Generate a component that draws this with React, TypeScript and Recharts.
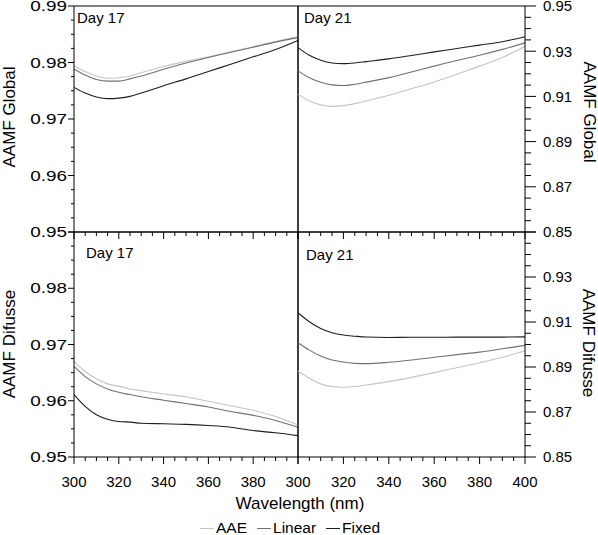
import React from "react";
import { LineChart, Line, XAxis, YAxis, ReferenceLine } from "recharts";

// wavelength samples (nm)
const wavelengths = [300, 305, 310, 315, 320, 325, 330, 340, 350, 360, 370, 380, 390, 400];

const glob17Aae = [0.9794, 0.9784, 0.9776, 0.9772, 0.9773, 0.9776, 0.9782, 0.9793, 0.9802, 0.981, 0.9819, 0.9828, 0.9837, 0.9846];
const glob17Lin = [0.9788, 0.9778, 0.977, 0.9767, 0.9767, 0.9771, 0.9776, 0.9788, 0.9799, 0.9809, 0.9818, 0.9827, 0.9836, 0.9844];
const glob17Fix = [0.9756, 0.9746, 0.9739, 0.9736, 0.9737, 0.974, 0.9746, 0.9759, 0.9771, 0.9784, 0.9797, 0.981, 0.9823, 0.9839];

const glob21Aae = [0.9109, 0.908, 0.9063, 0.9056, 0.9059, 0.9068, 0.908, 0.9105, 0.9134, 0.9164, 0.9198, 0.9234, 0.9272, 0.9322];
const glob21Lin = [0.9213, 0.9183, 0.9163, 0.9151, 0.9148, 0.9154, 0.9163, 0.9183, 0.9208, 0.9234, 0.9259, 0.9282, 0.9308, 0.9337];
const glob21Fix = [0.9316, 0.9282, 0.926, 0.9248, 0.9245, 0.9248, 0.9254, 0.9266, 0.9281, 0.9297, 0.9312, 0.9327, 0.9342, 0.9364];

const dif17Aae = [0.967, 0.9652, 0.9639, 0.963, 0.9626, 0.9621, 0.9618, 0.9612, 0.9607, 0.9599, 0.9591, 0.9583, 0.9572, 0.9557];
const dif17Lin = [0.9661, 0.9643, 0.963, 0.9621, 0.9615, 0.9611, 0.9607, 0.9601, 0.9595, 0.9589, 0.9581, 0.9574, 0.9565, 0.9553];
const dif17Fix = [0.9611, 0.959, 0.9575, 0.9567, 0.9563, 0.9562, 0.956, 0.9559, 0.9558, 0.9556, 0.9553, 0.9547, 0.9543, 0.9538];

const dif21Aae = [0.8882, 0.885, 0.8825, 0.8813, 0.881, 0.8813, 0.882, 0.8835, 0.8854, 0.8875, 0.8897, 0.8919, 0.8943, 0.8972];
const dif21Lin = [0.9008, 0.8975, 0.8949, 0.8931, 0.8922, 0.8916, 0.8915, 0.8921, 0.8931, 0.8943, 0.8955, 0.8966, 0.8981, 0.8996];
const dif21Fix = [0.9141, 0.9101, 0.9071, 0.9052, 0.9042, 0.9037, 0.9033, 0.9031, 0.9032, 0.9032, 0.9033, 0.9033, 0.9033, 0.9034];

// ticks
const xTicks = [300, 305, 310, 315, 320, 325, 330, 335, 340, 345, 350, 355, 360, 365, 370, 375, 380, 385, 390, 395, 400];
const xMajors = [300, 320, 340, 360, 380, 400];
const leftTicks = [0.95, 0.9525, 0.955, 0.9575, 0.96, 0.9625, 0.965, 0.9675, 0.97, 0.9725, 0.975, 0.9775, 0.98, 0.9825, 0.985, 0.9875, 0.99];
const leftMajors = [0.95, 0.96, 0.97, 0.98, 0.99];
const rightTicks = [0.85, 0.855, 0.86, 0.865, 0.87, 0.875, 0.88, 0.885, 0.89, 0.895, 0.9, 0.905, 0.91, 0.915, 0.92, 0.925, 0.93, 0.935, 0.94, 0.945, 0.95];
const rightMajors = [0.85, 0.87, 0.89, 0.91, 0.93, 0.95];

const COLORS = { aae: "#c4c4c4", lin: "#717171", fix: "#1e1e1e" };
const FONT = "'Liberation Sans', Arial, sans-serif";

const has = (list: number[], v: number) => list.some((l) => Math.abs(l - v) < 1e-7);

function rows(aae: number[], lin: number[], fix: number[]) {
  return wavelengths.map((w, i) => ({ w, aae: aae[i], lin: lin[i], fix: fix[i] }));
}

function YTick(props: any) {
  const { x, y, payload, side, majors, labels } = props;
  const v = payload.value;
  const major = has(majors, v);
  const label = has(labels, v) ? v.toFixed(2) : null;
  if (side === "left") {
    const len = major ? 6 : 3;
    return (
      <g>
        <line x1={x - len} y1={y} x2={x} y2={y} stroke="#000" />
        {label && (
          <text
            transform={`translate(${x - 7},${y}) scale(1.35,1)`}
            textAnchor="end"
            dy="0.36em"
            fontSize={14}
            fontFamily={FONT}
            fill="#000"
          >
            {label}
          </text>
        )}
      </g>
    );
  }
  const len = major ? 11 : 6;
  return (
    <g>
      <line x1={x} y1={y} x2={x + len} y2={y} stroke="#000" />
      {label && (
        <text x={x + 18} y={y} dy="0.36em" fontSize={15} fontFamily={FONT} fill="#000">
          {label}
        </text>
      )}
    </g>
  );
}

function XTick(props: any) {
  const { x, y, payload, labels } = props;
  const v = payload.value;
  const major = has(xMajors, v);
  const len = major ? 7 : 4;
  return (
    <g>
      <line x1={x} y1={y} x2={x} y2={y + len} stroke="#000" />
      {has(labels, v) && (
        <text x={x} y={y + 30} textAnchor="middle" fontSize={15} fontFamily={FONT} fill="#000">
          {v}
        </text>
      )}
    </g>
  );
}

interface PanelProps {
  data: { w: number; aae: number; lin: number; fix: number }[];
  side: "left" | "right";
  domain: [number, number];
  yLabels: number[];
  xLabels: number[];
  left: number;
  top: number;
  width: number;
  height: number;
  margin: { top: number; right: number; bottom: number; left: number };
  xHeight: number;
  day: string;
  dayX: number;
  dayY: number;
}

function Panel(p: PanelProps) {
  const ticks = p.side === "left" ? leftTicks : rightTicks;
  const majors = p.side === "left" ? leftMajors : rightMajors;
  return (
    <div style={{ position: "absolute", left: p.left, top: p.top }}>
      <LineChart width={p.width} height={p.height} data={p.data} margin={p.margin}>
        <XAxis
          dataKey="w"
          type="number"
          domain={[300, 400]}
          ticks={xTicks}
          interval={0}
          tickSize={0}
          tickMargin={0}
          height={p.xHeight}
          stroke="#000"
          tick={<XTick labels={p.xLabels} />}
        />
        <YAxis
          orientation={p.side}
          type="number"
          domain={p.domain}
          ticks={ticks}
          interval={0}
          tickSize={0}
          tickMargin={0}
          width={p.side === "left" ? 74 : 73}
          stroke="#000"
          allowDataOverflow
          tick={<YTick side={p.side} majors={majors} labels={p.yLabels} />}
        />
        <ReferenceLine y={p.domain[1]} stroke="#000" />
        <ReferenceLine x={p.side === "left" ? 400 : 300} stroke="#000" />
        <Line dataKey="aae" type="monotone" stroke={COLORS.aae} strokeWidth={1.1} dot={false} isAnimationActive={false} />
        <Line dataKey="lin" type="monotone" stroke={COLORS.lin} strokeWidth={1.1} dot={false} isAnimationActive={false} />
        <Line dataKey="fix" type="monotone" stroke={COLORS.fix} strokeWidth={1.1} dot={false} isAnimationActive={false} />
      </LineChart>
      <div
        style={{
          position: "absolute",
          left: p.dayX,
          top: p.dayY,
          fontSize: 15,
          fontFamily: FONT,
          lineHeight: "15px",
          whiteSpace: "nowrap",
        }}
      >
        {p.day}
      </div>
    </div>
  );
}

function VLabel({ x, y, text, rot }: { x: number; y: number; text: string; rot: number }) {
  return (
    <text
      transform={`translate(${x},${y}) rotate(${rot})`}
      textAnchor="middle"
      dy="0.36em"
      fontSize={17}
      fontFamily={FONT}
      fill="#000"
    >
      {text}
    </text>
  );
}

function LegendItem({ color, label }: { color: string; label: string }) {
  return (
    <span style={{ display: "inline-flex", alignItems: "center", marginRight: 10 }}>
      <span style={{ display: "inline-block", width: 14, height: 0, borderTop: `1px solid ${color}`, marginRight: 2 }} />
      <span>{label}</span>
    </span>
  );
}

export default function App() {
  return (
    <div style={{ position: "absolute", left: 0, top: 0, width: 598, height: 535, background: "#fff", overflow: "hidden" }}>
      <style>{`.recharts-surface { overflow: visible; }`}</style>
      <Panel
        data={rows(glob17Aae, glob17Lin, glob17Fix)}
        side="left"
        domain={[0.95, 0.99]}
        yLabels={leftMajors}
        xLabels={[]}
        left={0}
        top={0}
        width={298}
        height={240}
        margin={{ top: 6, right: 0, bottom: 0, left: 0 }}
        xHeight={8}
        day="Day 17"
        dayX={77}
        dayY={10}
      />
      <Panel
        data={rows(glob21Aae, glob21Lin, glob21Fix)}
        side="right"
        domain={[0.85, 0.95]}
        yLabels={rightMajors}
        xLabels={[]}
        left={298}
        top={0}
        width={300}
        height={240}
        margin={{ top: 6, right: 0, bottom: 0, left: 0 }}
        xHeight={8}
        day="Day 21"
        dayX={6}
        dayY={10}
      />
      <Panel
        data={rows(dif17Aae, dif17Lin, dif17Fix)}
        side="left"
        domain={[0.95, 0.99]}
        yLabels={[0.95, 0.96, 0.97, 0.98]}
        xLabels={[300, 320, 340, 360, 380]}
        left={0}
        top={232}
        width={298}
        height={303}
        margin={{ top: 0, right: 0, bottom: 38, left: 0 }}
        xHeight={40}
        day="Day 17"
        dayX={86}
        dayY={13}
      />
      <Panel
        data={rows(dif21Aae, dif21Lin, dif21Fix)}
        side="right"
        domain={[0.85, 0.95]}
        yLabels={[0.85, 0.87, 0.89, 0.91, 0.93]}
        xLabels={[300, 320, 340, 360, 380, 400]}
        left={298}
        top={232}
        width={300}
        height={303}
        margin={{ top: 0, right: 0, bottom: 38, left: 0 }}
        xHeight={40}
        day="Day 21"
        dayX={8}
        dayY={15}
      />
      <svg width={598} height={535} style={{ position: "absolute", left: 0, top: 0, pointerEvents: "none" }}>
        <VLabel x={9} y={117} text="AAMF Global" rot={-90} />
        <VLabel x={9} y={344} text="AAMF Difusse" rot={-90} />
        <VLabel x={590} y={112} text="AAMF Global" rot={90} />
        <VLabel x={589} y={343} text="AAMF Difusse" rot={90} />
        <text x={300} y={509} textAnchor="middle" fontSize={17} fontFamily={FONT} fill="#000">
          Wavelength (nm)
        </text>
      </svg>
      <div
        style={{
          position: "absolute",
          left: 200,
          top: 520,
          fontSize: 15.5,
          fontFamily: FONT,
          lineHeight: "16px",
          whiteSpace: "nowrap",
          display: "flex",
        }}
      >
        <LegendItem color={COLORS.aae} label="AAE" />
        <LegendItem color={COLORS.lin} label="Linear" />
        <LegendItem color={COLORS.fix} label="Fixed" />
      </div>
    </div>
  );
}
